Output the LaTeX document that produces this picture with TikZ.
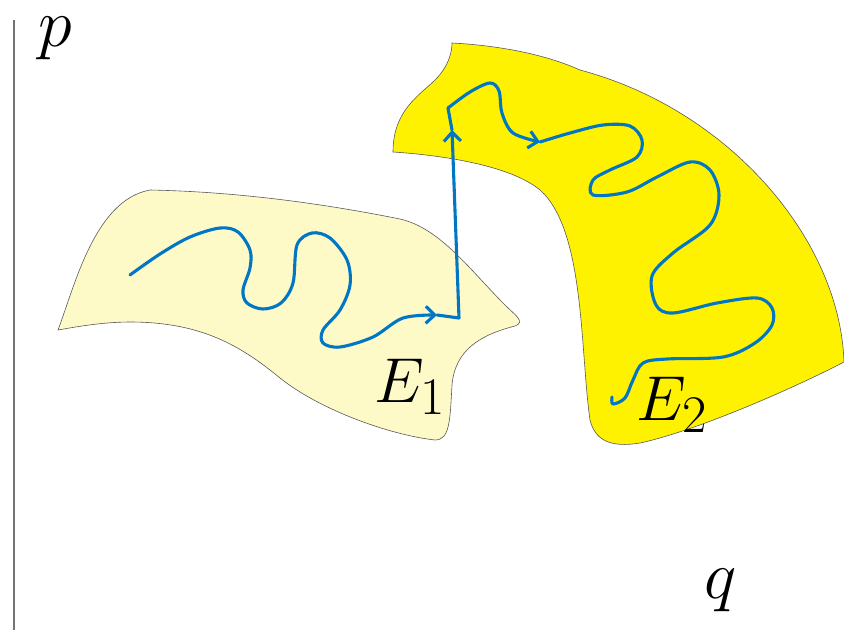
\documentclass[tikz,border=0pt]{standalone}
\usepackage{tikz}
\usetikzlibrary{arrows.meta}
\definecolor{orbitblue}{RGB}{0,118,196}
\definecolor{paleyellow}{RGB}{253,250,200}
\definecolor{brightyellow}{RGB}{255,242,0}
\definecolor{axisgray}{gray}{0.45}
\tikzset{
  regbound/.style   = {draw=black!65, line width=0.6pt},
  orbit/.style      = {draw=orbitblue, line width=3.1pt, line cap=round,
                       line join=round},
  orbitarrow/.style = {orbit, -{Straight Barb[length=9pt,width=17pt]}},
  biglbl/.style     = {font=\Huge, scale=2.55, inner sep=0pt},
  axislbl/.style    = {font=\Huge, scale=2.75, inner sep=0pt}
}

\begin{document}
\begin{tikzpicture}[x=1pt, y=-1pt]
  \useasboundingbox (0,0) rectangle (844,630);

  % axis
  \draw[axisgray, line width=1.1pt] (14,20) -- (14,630);

  % regions
  \path[regbound, fill=paleyellow] (58,330)
        .. controls (75,285) and (95,200) .. (150,190)
        .. controls (250,192) and (340,207) .. (400,219)
        .. controls (440,228) and (470,270) .. (505,305)
        .. controls (515,315) and (526,322) .. (515,326)
        .. controls (480,335) and (455,350) .. (452,385)
        .. controls (450,420) and (450,440) .. (435,440)
        .. controls (390,435) and (320,410) .. (280,378)
        .. controls (240,345) and (200,322) .. (130,322)
        .. controls (100,322) and (70,328) .. (58,330) -- cycle;

  \path[regbound, fill=brightyellow] (452,43)
        .. controls (490,45) and (540,52) .. (580,70)
        .. controls (730,110) and (840,240) .. (844,362)
        .. controls (800,385) and (700,430) .. (640,443)
        .. controls (610,448) and (595,440) .. (590,420)
        .. controls (580,350) and (585,230) .. (540,190)
        .. controls (510,165) and (440,155) .. (393,152)
        .. controls (393,110) and (420,95) .. (435,80)
        .. controls (450,65) and (452,50) .. (452,43) -- cycle;

  % orbit
  \draw[orbitarrow] plot[smooth, tension=0.55] coordinates {
        (130,275) (160,254) (190,237) (220,228) (238,232) (250,250)
        (250,268) (243,290) (247,303) (263,309) (281,303) (293,283)
        (297,245) (312,233) (330,238) (347,260) (350,285) (340,310)
        (323,330) (323,343) (340,347) (373,337) (403,318) (437,315)};
  \draw[orbitarrow] (437,315) -- (459,318) -- (452,130);
  \draw[orbit] (452,130) -- (448,108);
  \draw[orbitarrow] plot[smooth, tension=0.55] coordinates {
        (448,108) (470,92) (490,83) (499,91) (502,113) (513,133) (540,142)};
  \draw[orbit] plot[smooth, tension=0.55] coordinates {
        (540,142) (570,133) (603,125) (630,126) (642,140) (637,157)
        (610,170) (593,180) (593,195) (627,192) (657,177) (690,162)
        (710,170) (719,195) (710,225) (673,253) (652,276) (656,305)
        (673,313) (717,303) (757,298) (772,308) (772,325) (755,343)
        (723,357) (667,359) (643,363) (633,380) (625,398) (613,404)
        (612,397)};

  % labels
  \node[axislbl, anchor=base] (plbl) at (55,46) {$p$};
  \node[axislbl, anchor=base] (qlbl) at (721,598) {$q$};
  \node[biglbl, anchor=base west] (eone) at (374,402) {$E_1$};
  \node[biglbl, anchor=base west] (etwo) at (636,420) {$E_2$};
\end{tikzpicture}
\end{document}
